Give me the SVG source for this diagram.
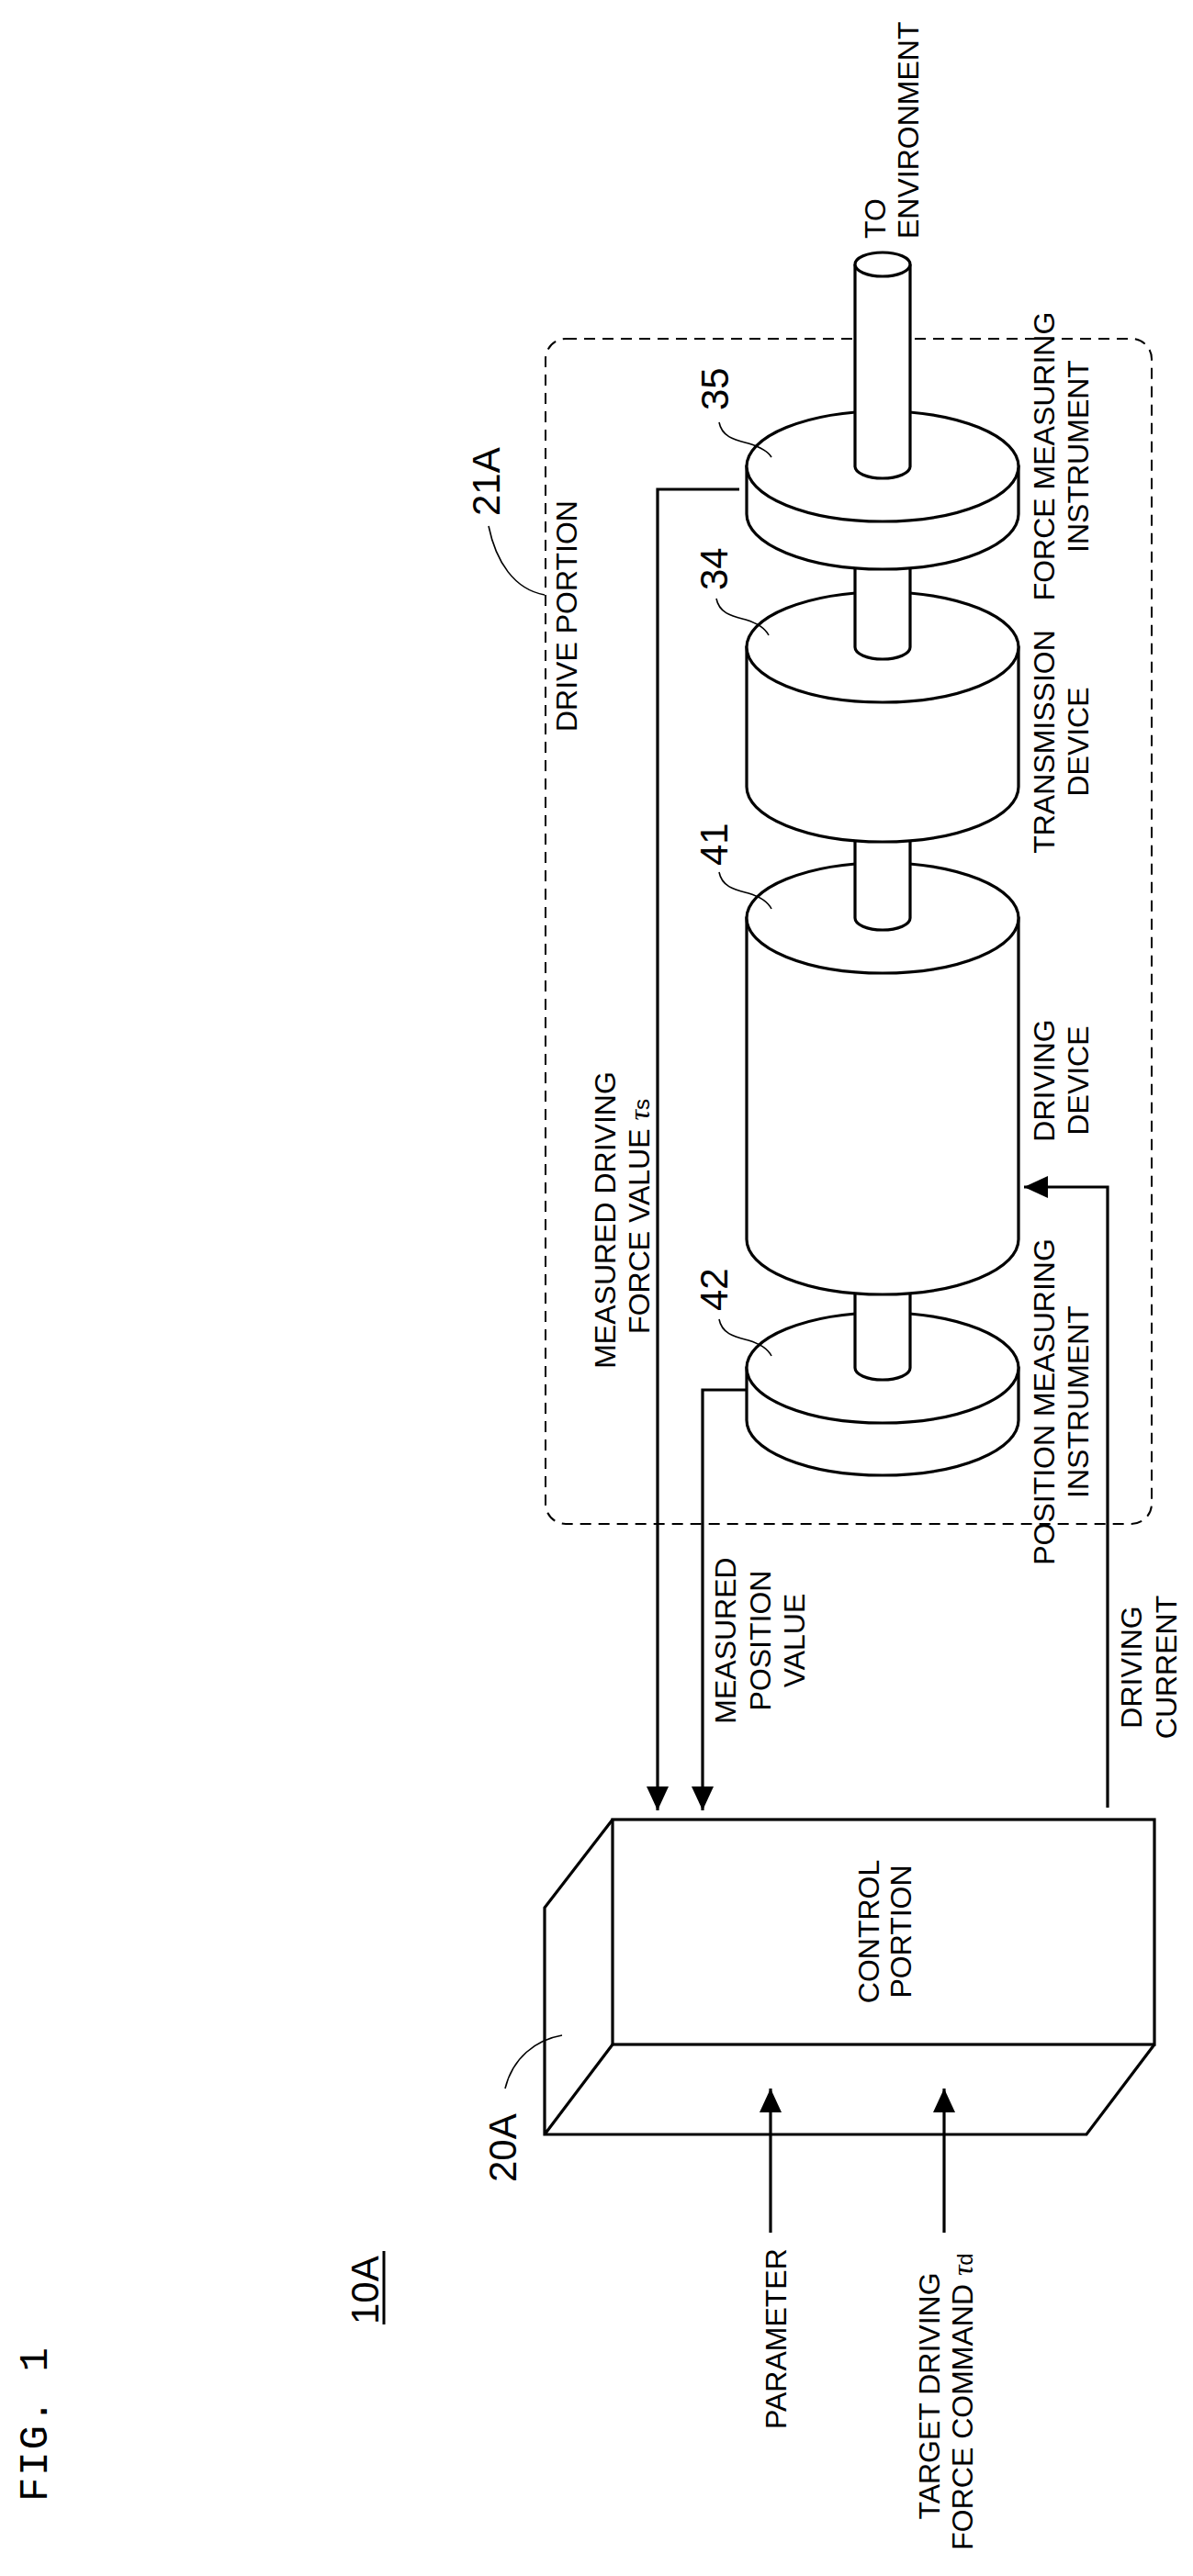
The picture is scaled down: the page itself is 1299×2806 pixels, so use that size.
<svg xmlns="http://www.w3.org/2000/svg" width="1299" height="2806" viewBox="0 0 1299 2806">
<style>
.ln{fill:none;stroke:#000;stroke-width:3.2}
.sh{fill:#fff;stroke:#000;stroke-width:3.2}
.ld{fill:none;stroke:#000;stroke-width:1.6}
.t{font-family:"Liberation Sans",Arial,sans-serif;font-size:32px;fill:#000}
.n{font-family:"Liberation Sans",Arial,sans-serif;font-size:42px;fill:#000}
.g{font-family:"Liberation Serif",serif;font-style:italic}
</style>
<defs>
<marker id="ah" markerUnits="userSpaceOnUse" markerWidth="26" markerHeight="24" viewBox="0 0 26 24" refX="26" refY="12" orient="auto">
<path d="M0,0 L26,12 L0,24 Z" fill="#000"/>
</marker>
</defs>
<rect width="1299" height="2806" fill="#fff"/>

<g id="drive-portion">
<rect x="594" y="369" width="660" height="1291" rx="22" fill="none" stroke="#000" stroke-width="2" stroke-dasharray="12 8"/>
<text class="t" transform="translate(628,797) rotate(-90)">DRIVE PORTION</text>
<text class="n" transform="translate(544,562) rotate(-90)">21A</text>
<path class="ld" d="M532,573 C540,612 560,642 593,648"/>
</g>

<g id="n42">
<path class="sh" d="M813,1490 V1547 A148,60 0 0 0 1109,1547 V1490 Z"/>
<ellipse class="sh" cx="961" cy="1490" rx="148" ry="60"/>
</g>
<path class="sh" d="M931,1340 V1490 A30,13 0 0 0 991,1490 V1340"/>
<g id="n41">
<path class="sh" d="M813,1000 V1350 A148,60 0 0 0 1109,1350 V1000 Z"/>
<ellipse class="sh" cx="961" cy="1000" rx="148" ry="60"/>
</g>
<path class="sh" d="M931,850 V1000 A30,13 0 0 0 991,1000 V850"/>
<g id="n34">
<path class="sh" d="M813,705 V857 A148,60 0 0 0 1109,857 V705 Z"/>
<ellipse class="sh" cx="961" cy="705" rx="148" ry="60"/>
</g>
<path class="sh" d="M931,555 V705 A30,13 0 0 0 991,705 V555"/>
<g id="n35">
<path class="sh" d="M813,508 V560 A148,60 0 0 0 1109,560 V508 Z"/>
<ellipse class="sh" cx="961" cy="508" rx="148" ry="60"/>
</g>
<g id="output-shaft">
<path class="sh" d="M931,288 V508 A30,13 0 0 0 991,508 V288"/>
<ellipse class="sh" cx="961" cy="288" rx="30" ry="13"/>
<text class="t" transform="translate(964,260) rotate(-90)">TO</text>
<text class="t" transform="translate(1000,260) rotate(-90)">ENVIRONMENT</text>
</g>

<g id="labels-drive">
<text class="n" transform="translate(793,447) rotate(-90)">35</text>
<path class="ld" d="M783,460 C786,476 800,479 815,483 C828,487 836,491 840,498"/>
<text class="n" transform="translate(792,643) rotate(-90)">34</text>
<path class="ld" d="M780,652 C783,668 797,671 812,675 C825,679 833,684 837,692"/>
<text class="n" transform="translate(792,943) rotate(-90)">41</text>
<path class="ld" d="M783,950 C786,966 800,969 815,973 C828,977 836,982 840,990"/>
<text class="n" transform="translate(792,1428) rotate(-90)">42</text>
<path class="ld" d="M783,1437 C786,1453 800,1456 815,1460 C828,1464 836,1469 840,1477"/>
<g class="t" text-anchor="middle">
<text transform="translate(1148,497) rotate(-90)">FORCE MEASURING</text>
<text transform="translate(1185,497) rotate(-90)">INSTRUMENT</text>
<text transform="translate(1148,808) rotate(-90)">TRANSMISSION</text>
<text transform="translate(1185,808) rotate(-90)">DEVICE</text>
<text transform="translate(1148,1177) rotate(-90)">DRIVING</text>
<text transform="translate(1185,1177) rotate(-90)">DEVICE</text>
<text transform="translate(1148,1527) rotate(-90)">POSITION MEASURING</text>
<text transform="translate(1185,1527) rotate(-90)">INSTRUMENT</text>
</g>
</g>

<g id="control-portion">
<path class="ln" d="M667,1982 L593,2078 V2325 H1183 L1257,2227 M593,2325 L667,2227"/>
<rect class="ln" x="667" y="1982" width="590" height="245"/>
<g class="t" text-anchor="middle">
<text transform="translate(957,2104) rotate(-90)">CONTROL</text>
<text transform="translate(992,2104) rotate(-90)">PORTION</text>
</g>
<text class="n" transform="translate(562,2377) rotate(-90)">20A</text>
<path class="ld" d="M550,2275 C558,2242 583,2222 612,2217"/>
</g>

<g id="connectors">
<path class="ln" d="M805,533 H716 V1972" marker-end="url(#ah)"/>
<path class="ln" d="M812,1514 H765 V1972" marker-end="url(#ah)"/>
<path class="ln" d="M1206,1969 V1293 H1115" marker-end="url(#ah)"/>
<path class="ln" d="M839,2432 V2275" marker-end="url(#ah)"/>
<path class="ln" d="M1028,2432 V2275" marker-end="url(#ah)"/>
</g>

<g id="signal-labels" class="t" text-anchor="middle">
<text transform="translate(670,1329) rotate(-90)">MEASURED DRIVING</text>
<text transform="translate(707,1325) rotate(-90)">FORCE VALUE <tspan class="g">τ</tspan><tspan font-size="24">s</tspan></text>
<text transform="translate(801,1787) rotate(-90)">MEASURED</text>
<text transform="translate(839,1787) rotate(-90)">POSITION</text>
<text transform="translate(876,1787) rotate(-90)">VALUE</text>
<text transform="translate(1243,1816) rotate(-90)">DRIVING</text>
<text transform="translate(1281,1816) rotate(-90)">CURRENT</text>
<text text-anchor="start" transform="translate(856,2646) rotate(-90)">PARAMETER</text>
<text transform="translate(1023,2610) rotate(-90)">TARGET DRIVING</text>
<text transform="translate(1059,2616) rotate(-90)">FORCE COMMAND  <tspan class="g">τ</tspan><tspan font-size="24">d</tspan></text>
</g>

<g id="titles">
<text class="n" font-size="44" transform="translate(412,2532) rotate(-90)">10A</text>
<line x1="418" y1="2452" x2="418" y2="2532" stroke="#000" stroke-width="3"/>
<text transform="translate(51,2725) rotate(-90)" font-family="'Liberation Mono',monospace" font-size="44" textLength="168" lengthAdjust="spacing">FIG. 1</text>
</g>
</svg>
